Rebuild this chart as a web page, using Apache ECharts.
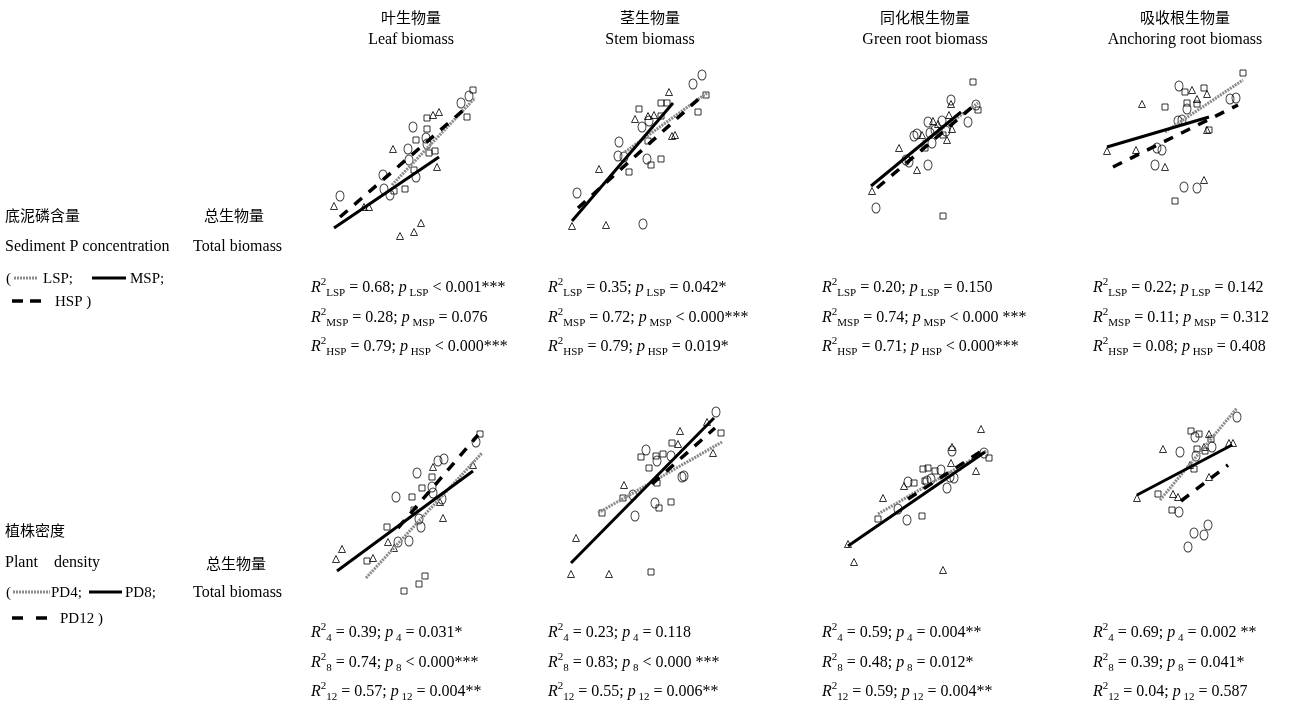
<!DOCTYPE html>
<html><head><meta charset="utf-8">
<script src="https://cdn.jsdelivr.net/npm/echarts@6/dist/echarts.min.js"></script>
<style>html,body{margin:0;padding:0;background:#fff}#c{width:1295px;height:708px}</style>
</head><body><div id="c"></div>
<script>
// ---------- DATA (arbitrary panel units) ----------
const colTitlesCn = ['叶生物量', '茎生物量', '同化根生物量', '吸收根生物量'];
const colTitlesEn = ['Leaf biomass', 'Stem biomass', 'Green root biomass', 'Anchoring root biomass'];
const groupsP = ['LSP', 'MSP', 'HSP'];
const groupsD = ['4', '8', '12'];

// Row 1: sediment P
const leafP_tri = [[14,44],[44,43],[49,43],[73,101],[113,135],[119,138],[117,83],[80,14],[94,18],[101,27]];
const leafP_cir = [[149,154],[141,147],[93,123],[106,112],[107,106],[88,101],[89,90],[96,73],[63,75],[64,61],[70,55],[20,54]];
const leafP_sq  = [[153,160],[147,133],[107,132],[107,121],[96,110],[109,97],[115,99],[94,80],[74,59],[85,61]];
const leafP_fit = [[[72,65],[155,152]], [[14,22],[119,93]], [[20,33],[147,143]]];

const stemP_tri = [[109,158],[75,131],[88,134],[94,135],[112,114],[115,115],[39,81],[12,24],[46,25]];
const stemP_cir = [[142,175],[133,166],[89,129],[82,123],[59,108],[58,94],[64,93],[87,91],[17,57],[83,26]];
const stemP_sq  = [[146,155],[101,147],[107,147],[79,141],[101,134],[138,138],[88,109],[91,85],[101,91],[69,78]];
const stemP_fit = [[[65,98],[147,157]], [[12,29],[113,147]], [[18,42],[143,155]]];

const greenP_tri = [[121,146],[119,135],[103,129],[108,126],[122,121],[92,115],[117,110],[69,102],[87,80],[42,59]];
const greenP_cir = [[121,150],[146,145],[138,128],[98,128],[112,129],[116,119],[100,117],[105,120],[84,114],[87,116],[102,107],[79,88],[76,90],[98,85],[46,42]];
const greenP_sq  = [[143,168],[148,140],[113,115],[95,102],[113,34]];
const greenP_fit = [[[93,108],[148,147]], [[41,64],[131,138]], [[47,62],[147,147]]];

const anchorP_tri = [[102,120],[117,116],[52,106],[107,111],[117,80],[17,59],[46,60],[75,43],[114,30]];
const anchorP_cir = [[89,124],[97,101],[140,111],[146,112],[88,89],[92,90],[67,62],[72,60],[65,45],[94,23],[107,22]];
const anchorP_sq  = [[153,137],[95,118],[114,122],[75,103],[97,107],[107,106],[119,80],[85,9]];
const anchorP_fit = [[[75,78],[153,130]], [[17,63],[119,93]], [[23,43],[148,105]]];

// Row 2: plant density
const leafD_tri = [[153,135],[113,133],[120,98],[123,82],[68,58],[74,52],[22,51],[16,41],[53,42]];
const leafD_cir = [[156,158],[118,139],[124,141],[97,127],[112,113],[113,107],[76,103],[122,101],[99,81],[101,73],[78,58],[89,59]];
const leafD_sq  = [[160,166],[112,123],[102,112],[92,103],[94,90],[67,73],[47,39],[105,24],[99,16],[84,9]];
const leafD_fit = [[[46,22],[162,147]], [[17,29],[153,129]], [[78,72],[158,165]]];

const stemD_tri = [[147,178],[120,169],[153,147],[118,156],[64,115],[16,62],[11,26],[49,26]];
const stemD_cir = [[156,188],[86,150],[97,139],[111,144],[122,123],[124,124],[73,105],[95,97],[75,84]];
const stemD_sq  = [[161,167],[112,157],[81,143],[96,144],[103,146],[89,132],[97,117],[63,102],[99,92],[111,98],[42,87],[91,28]];
const stemD_fit = [[[38,87],[162,158]], [[11,37],[154,182]], [[92,116],[155,172]]];

const greenD_tri = [[151,161],[122,143],[121,127],[146,119],[74,104],[53,92],[18,46],[24,28],[113,20]];
const greenD_cir = [[122,139],[154,137],[111,120],[124,112],[120,113],[101,111],[97,109],[78,108],[117,102],[68,81],[77,70]];
const greenD_sq  = [[159,132],[93,121],[98,122],[105,119],[95,109],[84,107],[48,71],[92,74]];
const greenD_fit = [[[48,76],[158,140]], [[18,44],[155,138]], [[78,91],[150,138]]];

const anchorD_tri = [[89,126],[43,111],[84,113],[109,117],[113,117],[70,95],[89,83],[53,66],[58,63],[17,62]];
const anchorD_cir = [[117,143],[75,123],[60,108],[92,113],[76,104],[59,48],[88,35],[74,27],[84,25],[68,13]];
const anchorD_sq  = [[71,129],[79,126],[91,121],[77,111],[85,109],[74,91],[38,66],[52,50]];
const anchorD_fit = [[[40,60],[117,152]], [[17,65],[112,115]], [[61,59],[108,95]]];

// Statistics: [R2, p-relation text]
const leafP_stats   = [['0.68', '< 0.001***'], ['0.28', '= 0.076'], ['0.79', '< 0.000***']];
const stemP_stats   = [['0.35', '= 0.042*'],   ['0.72', '< 0.000***'], ['0.79', '= 0.019*']];
const greenP_stats  = [['0.20', '= 0.150'],    ['0.74', '< 0.000 ***'], ['0.71', '< 0.000***']];
const anchorP_stats = [['0.22', '= 0.142'],    ['0.11', '= 0.312'], ['0.08', '= 0.408']];
const leafD_stats   = [['0.39', '= 0.031*'],   ['0.74', '< 0.000***'], ['0.57', '= 0.004**']];
const stemD_stats   = [['0.23', '= 0.118'],    ['0.83', '< 0.000 ***'], ['0.55', '= 0.006**']];
const greenD_stats  = [['0.59', '= 0.004**'],  ['0.48', '= 0.012*'], ['0.59', '= 0.004**']];
const anchorD_stats = [['0.69', '= 0.002 **'], ['0.39', '= 0.041*'], ['0.04', '= 0.587']];

// ---------- LAYOUT ----------
const boxes = [
  {l:320,t:60,w:180,h:190},{l:560,t:60,w:180,h:190},{l:830,t:60,w:180,h:190},{l:1090,t:60,w:180,h:150},
  {l:320,t:400,w:180,h:200},{l:560,t:400,w:180,h:200},{l:830,t:410,w:180,h:180},{l:1120,t:400,w:160,h:160}];
const panels = [
  [leafP_tri, leafP_cir, leafP_sq, leafP_fit],
  [stemP_tri, stemP_cir, stemP_sq, stemP_fit],
  [greenP_tri, greenP_cir, greenP_sq, greenP_fit],
  [anchorP_tri, anchorP_cir, anchorP_sq, anchorP_fit],
  [leafD_tri, leafD_cir, leafD_sq, leafD_fit],
  [stemD_tri, stemD_cir, stemD_sq, stemD_fit],
  [greenD_tri, greenD_cir, greenD_sq, greenD_fit],
  [anchorD_tri, anchorD_cir, anchorD_sq, anchorD_fit]];
const statsAll = [leafP_stats, stemP_stats, greenP_stats, anchorP_stats, leafD_stats, stemD_stats, greenD_stats, anchorD_stats];

const SERIF = '"Liberation Serif","Times New Roman",serif';
const CJK = '"Noto Sans CJK SC",sans-serif';

const grid = [], xAxis = [], yAxis = [], series = [];
const syms = [['triangle', 7], ['circle', [8, 10]], ['rect', 6]];
const lineStyles = [
  {color:'#8a8a8a', width:3, type:[2,1]},
  {color:'#000', width:3, type:'solid'},
  {color:'#000', width:3.5, type:[10,9]}];
panels.forEach((p, i) => {
  const b = boxes[i];
  grid.push({left:b.l, top:b.t, width:b.w, height:b.h, show:false});
  xAxis.push({type:'value', gridIndex:i, min:0, max:b.w, show:false});
  yAxis.push({type:'value', gridIndex:i, min:0, max:b.h, show:false});
  for (let k = 0; k < 3; k++) series.push({
    type:'scatter', xAxisIndex:i, yAxisIndex:i, data:p[k], symbol:syms[k][0], symbolSize:syms[k][1],
    itemStyle:{color:'rgba(0,0,0,0)', borderColor:'#000', borderWidth:1}, silent:true, z:2});
  for (let k = 0; k < 3; k++) series.push({
    type:'line', xAxisIndex:i, yAxisIndex:i, data:p[3][k], symbol:'none',
    lineStyle:lineStyles[k], z:3, silent:true});
});

// ---------- TEXT ----------
const graphic = [];
function txt(x, y, text, font, align) {
  graphic.push({type:'text', x:x, y:y, silent:true,
    style:{text:text, font:font, fill:'#000', align:align || 'left', verticalAlign:'middle'}});
}
function hline(x1, x2, y, kind) {
  const st = kind === 0 ? {stroke:'#8a8a8a', lineWidth:3, lineDash:[2,1]} :
             kind === 1 ? {stroke:'#000', lineWidth:3} : {stroke:'#000', lineWidth:3.5};
  graphic.push({type:'line', silent:true, shape:{x1:x1, y1:y, x2:x2, y2:y}, style:st});
}
const headerX = [411, 650, 925, 1185];
headerX.forEach((x, i) => {
  txt(x, 17, colTitlesCn[i], '15px ' + CJK, 'center');
  txt(x, 40, colTitlesEn[i], '16px ' + SERIF, 'center');
});

// left labels row 1
txt(5, 215, '底泥磷含量', '15px ' + CJK);
txt(204, 215, '总生物量', '15px ' + CJK);
txt(5, 247, 'Sediment P concentration', '16px ' + SERIF);
txt(193, 247, 'Total biomass', '16px ' + SERIF);
txt(6, 279, '(', '15px ' + SERIF);
hline(14, 38, 278, 0);
txt(43, 279, 'LSP;', '15px ' + SERIF);
hline(92, 126, 278, 1);
txt(130, 279, 'MSP;', '15px ' + SERIF);
hline(12, 23, 301, 2); hline(30, 41, 301, 2);
txt(55, 302, 'HSP )', '15px ' + SERIF);

// left labels row 2
txt(5, 530, '植株密度', '15px ' + CJK);
txt(5, 563, 'Plant    density', '16px ' + SERIF);
txt(206, 563, '总生物量', '15px ' + CJK);
txt(6, 593, '(', '15px ' + SERIF);
hline(13, 50, 592, 0);
txt(51, 593, 'PD4;', '15px ' + SERIF);
hline(89, 122, 592, 1);
txt(125, 593, 'PD8;', '15px ' + SERIF);
txt(193, 593, 'Total biomass', '16px ' + SERIF);
hline(12, 23, 618, 2); hline(36, 47, 618, 2);
txt(60, 619, 'PD12 )', '15px ' + SERIF);

// statistics
const statX = [311, 548, 822, 1093];
const statY = [[288, 318, 347], [633, 663, 692]];
const rich = {
  i: {fontFamily:SERIF, fontSize:16, fontStyle:'italic', fill:'#000', lineHeight:22, verticalAlign:'middle'},
  t: {fontFamily:SERIF, fontSize:16, fill:'#000', lineHeight:22, verticalAlign:'middle'},
  sup: {fontFamily:SERIF, fontSize:11, fill:'#000', lineHeight:12, verticalAlign:'top'},
  sub: {fontFamily:SERIF, fontSize:11, fill:'#000', lineHeight:12, verticalAlign:'bottom'}
};
statsAll.forEach((st, i) => {
  const row = i < 4 ? 0 : 1, col = i % 4;
  const g = row === 0 ? groupsP : groupsD;
  st.forEach((s, k) => {
    const text = '{i|R}{sup|2}{sub|' + g[k] + '}{t| = ' + s[0] + '; }{i|p}{sub| ' + g[k] + '}{t| ' + s[1] + '}';
    graphic.push({type:'text', x:statX[col], y:statY[row][k], silent:true,
      style:{text:text, rich:rich, align:'left', verticalAlign:'middle', font:'16px ' + SERIF, fill:'#000'}});
  });
});

const chart = echarts.init(document.getElementById('c'));
chart.setOption({
  animation:false, backgroundColor:'#fff',
  grid:grid, xAxis:xAxis, yAxis:yAxis, series:series, graphic:graphic
});
</script></body></html>
